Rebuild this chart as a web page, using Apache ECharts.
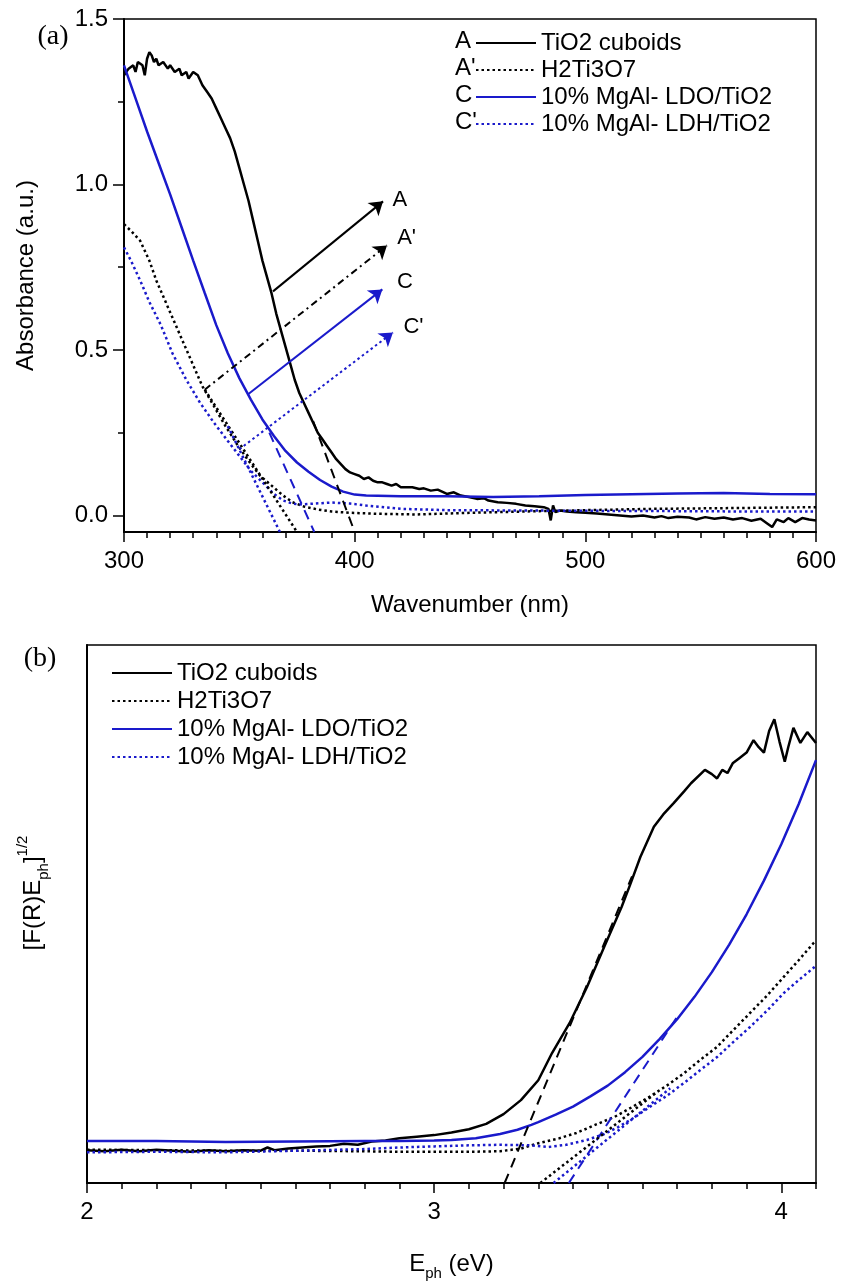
<!DOCTYPE html>
<html><head><meta charset="utf-8">
<script src="https://cdn.jsdelivr.net/npm/echarts@6/dist/echarts.min.js"></script>
<style>html,body{margin:0;padding:0;background:#fff}#c{width:841px;height:1283px}</style>
</head><body><div id="c"></div>
<script>
// ---------- names ----------
const seriesNames = ['TiO2 cuboids', 'H2Ti3O7', '10% MgAl- LDO/TiO2', '10% MgAl- LDH/TiO2'];
const legendPrefix = ['A', "A'", 'C', "C'"];

// ---------- panel (a): absorbance vs wavelength (nm) ----------
const absTiO2 = [[300,1.33],[302,1.35],[304,1.36],[305,1.34],[306,1.37],[308,1.36],[309,1.33],[310,1.38],[311,1.40],[312,1.39],[313,1.37],[314,1.38],[315,1.36],[317,1.37],[319,1.35],[320,1.36],[322,1.34],[324,1.35],[325,1.33],[327,1.34],[328,1.32],[330,1.34],[332,1.33],[334,1.30],[336,1.28],[338,1.26],[340,1.23],[342,1.20],[344,1.17],[346,1.14],[348,1.10],[350,1.05],[352,1.00],[354,0.95],[356,0.89],[358,0.83],[360,0.77],[362,0.72],[364,0.67],[366,0.61],[368,0.56],[370,0.51],[372,0.46],[374,0.41],[376,0.37],[378,0.34],[380,0.31],[382,0.28],[384,0.25],[386,0.23],[388,0.21],[390,0.19],[392,0.17],[394,0.155],[396,0.14],[398,0.13],[400,0.125],[402,0.12],[404,0.11],[406,0.115],[408,0.105],[410,0.10],[412,0.10],[414,0.095],[416,0.09],[418,0.095],[420,0.085],[425,0.085],[428,0.08],[430,0.082],[433,0.075],[436,0.078],[440,0.065],[443,0.07],[446,0.06],[450,0.055],[453,0.05],[456,0.052],[458,0.045],[462,0.040],[466,0.038],[470,0.035],[474,0.030],[478,0.028],[482,0.025],[484,0.02],[485,-0.015],[486,0.03],[487,0.01],[489,0.015],[492,0.012],[496,0.010],[500,0.008],[505,0.006],[510,0.003],[515,0.0],[520,-0.003],[525,0.0],[530,-0.006],[533,-0.002],[536,-0.008],[540,-0.004],[545,-0.006],[548,-0.012],[552,-0.005],[556,-0.01],[560,-0.006],[564,-0.012],[568,-0.008],[572,-0.016],[576,-0.01],[579,-0.025],[581,-0.035],[583,-0.012],[586,-0.02],[588,-0.008],[591,-0.02],[594,-0.008],[597,-0.012],[600,-0.015]];
const absH2Ti3O7 = [[300,0.88],[303,0.86],[307,0.83],[311,0.77],[314,0.71],[319,0.63],[324,0.55],[329,0.47],[334,0.39],[339,0.33],[344,0.27],[349,0.215],[354,0.165],[359,0.12],[364,0.09],[369,0.06],[373,0.04],[378,0.027],[384,0.018],[390,0.012],[398,0.008],[410,0.005],[427,0.003],[450,0.008],[480,0.013],[500,0.016],[530,0.02],[560,0.022],[600,0.025]];
const absLDO = [[300,1.36],[305,1.26],[310,1.16],[315,1.065],[320,0.97],[325,0.87],[330,0.77],[335,0.672],[340,0.575],[345,0.49],[350,0.415],[355,0.35],[360,0.29],[365,0.24],[370,0.195],[375,0.16],[380,0.132],[385,0.107],[390,0.087],[395,0.072],[400,0.063],[405,0.06],[420,0.058],[440,0.058],[460,0.056],[480,0.058],[500,0.062],[520,0.064],[540,0.066],[560,0.068],[580,0.065],[600,0.064]];
const absLDH = [[300,0.81],[303,0.77],[307,0.71],[311,0.645],[316,0.575],[321,0.49],[327,0.41],[333,0.34],[339,0.28],[345,0.225],[350,0.18],[355,0.135],[360,0.10],[365,0.065],[369,0.045],[373,0.036],[376,0.033],[383,0.036],[390,0.039],[398,0.036],[405,0.03],[420,0.02],[440,0.016],[470,0.015],[500,0.014],[540,0.013],[570,0.012],[600,0.012]];
// tangent (extrapolation) segments, panel (a)
const tanA  = [[382,0.285],[400,-0.05]];
const tanAp = [[335,0.38],[375,-0.05]];
const tanC  = [[363,0.25],[382.5,-0.05]];
const tanCp = [[345,0.27],[367.6,-0.05]];
// arrows, panel (a): [start, end]
const arrowA  = [[364.6,0.677],[412.3,0.949]];
const arrowAp = [[335,0.38],[414,0.816]];
const arrowC  = [[353.8,0.366],[412,0.683]];
const arrowCp = [[350,0.20],[416.6,0.553]];
// arrow labels
const arrowLabels = [{name:'A', value:[419.6,0.952]},{name:"A'", value:[422.5,0.840]},{name:'C', value:[421.8,0.707]},{name:"C'", value:[425.5,0.571]}];
const topXTicks = [300,400,500,600];
const topYTicks = [0,0.5,1.0,1.5];
const topYMinor = [0.25,0.75,1.25];

// ---------- panel (b): Tauc plot vs photon energy (eV) ----------
const taucTiO2 = [[2.0,0.061],[2.05,0.059],[2.1,0.062],[2.15,0.059],[2.2,0.062],[2.25,0.060],[2.3,0.058],[2.35,0.061],[2.4,0.059],[2.45,0.061],[2.5,0.060],[2.52,0.066],[2.54,0.061],[2.58,0.064],[2.62,0.066],[2.66,0.068],[2.7,0.069],[2.74,0.073],[2.78,0.071],[2.82,0.077],[2.86,0.079],[2.9,0.083],[2.95,0.086],[3.0,0.089],[3.05,0.094],[3.1,0.100],[3.15,0.110],[3.2,0.128],[3.25,0.154],[3.3,0.191],[3.34,0.242],[3.39,0.297],[3.44,0.364],[3.49,0.439],[3.54,0.513],[3.565,0.555],[3.594,0.606],[3.633,0.662],[3.66,0.685],[3.69,0.706],[3.72,0.728],[3.74,0.743],[3.78,0.768],[3.80,0.760],[3.815,0.752],[3.83,0.768],[3.845,0.762],[3.86,0.78],[3.88,0.79],[3.90,0.80],[3.92,0.823],[3.935,0.81],[3.95,0.80],[3.965,0.84],[3.98,0.862],[3.995,0.82],[4.01,0.783],[4.02,0.81],[4.035,0.846],[4.055,0.818],[4.075,0.838],[4.1,0.818]];
const taucH2Ti3O7 = [[2.0,0.062],[2.2,0.061],[2.4,0.060],[2.6,0.060],[2.8,0.059],[2.9,0.058],[3.0,0.058],[3.1,0.058],[3.19,0.059],[3.25,0.064],[3.30,0.074],[3.36,0.083],[3.41,0.093],[3.46,0.107],[3.52,0.123],[3.57,0.141],[3.62,0.160],[3.67,0.181],[3.72,0.204],[3.765,0.228],[3.815,0.253],[3.86,0.283],[3.91,0.316],[3.96,0.349],[4.007,0.383],[4.05,0.414],[4.093,0.446],[4.1,0.45]];
const taucLDO = [[2.0,0.078],[2.2,0.078],[2.4,0.076],[2.6,0.077],[2.8,0.078],[2.9,0.078],[3.0,0.079],[3.05,0.080],[3.12,0.083],[3.19,0.091],[3.24,0.099],[3.28,0.108],[3.3,0.113],[3.35,0.127],[3.4,0.142],[3.45,0.161],[3.5,0.181],[3.55,0.206],[3.6,0.2345],[3.65,0.268],[3.7,0.3045],[3.75,0.346],[3.8,0.392],[3.85,0.443],[3.9,0.4995],[3.95,0.562],[4.0,0.6295],[4.05,0.704],[4.1,0.786]];
const taucLDH = [[2.0,0.057],[2.2,0.058],[2.4,0.057],[2.6,0.060],[2.8,0.063],[2.9,0.066],[3.0,0.068],[3.1,0.070],[3.19,0.071],[3.28,0.070],[3.33,0.067],[3.38,0.071],[3.44,0.080],[3.49,0.091],[3.53,0.104],[3.575,0.121],[3.62,0.141],[3.67,0.162],[3.72,0.186],[3.765,0.209],[3.815,0.234],[3.86,0.261],[3.91,0.29],[3.96,0.321],[4.007,0.353],[4.05,0.377],[4.093,0.40],[4.1,0.405]];
const tanBA  = [[3.203,0],[3.57,0.57]];
const tanBC  = [[3.388,0],[3.70,0.309]];
const tanBAp = [[3.306,0],[3.64,0.168]];
const tanBCp = [[3.344,0],[3.68,0.176]];
const botXTicks = [2,3,4];
const botXMinor = [2.1,2.2,2.3,2.4,2.5,2.6,2.7,2.8,2.9,3.1,3.2,3.3,3.4,3.5,3.6,3.7,3.8,3.9,4.1];

// ---------- styles ----------
const BLACK = '#000000', BLUE = '#1a1acb';
const FONT = "'Liberation Sans', Arial, sans-serif";
const SERIF = "'Liberation Serif', 'Times New Roman', serif";
const DOT = [2.5, 3];
const styles = [
  {color: BLACK, type: 'solid', width: 2.5},
  {color: BLACK, type: DOT, width: 2.5},
  {color: BLUE, type: 'solid', width: 2.5},
  {color: BLUE, type: DOT, width: 2.5}
];

function curve(name, data, xi, yi, st, z) {
  return {type: 'line', name, data, xAxisIndex: xi, yAxisIndex: yi, symbol: 'none', showSymbol: false,
    lineStyle: {color: st.color, width: st.width, type: st.type, cap: 'butt'}, itemStyle: {color: st.color},
    animation: false, z: z || 2};
}
function seg(data, xi, yi, color, type, width) {
  return {type: 'line', data, xAxisIndex: xi, yAxisIndex: yi, symbol: 'none', silent: true,
    lineStyle: {color, width: width || 2, type}, animation: false, z: 3};
}
function arrow(coords, color, type) {
  return {type: 'lines', coordinateSystem: 'cartesian2d', xAxisIndex: 0, yAxisIndex: 0,
    symbol: ['none', 'arrow'], symbolSize: 13, silent: true, animation: false, z: 4,
    lineStyle: {color, width: 2, type, opacity: 1}, data: [{coords}]};
}

const topData = [absTiO2, absH2Ti3O7, absLDO, absLDH];
const botData = [taucTiO2, taucH2Ti3O7, taucLDO, taucLDH];
const series = [];
topData.forEach((d, i) => series.push(curve(seriesNames[i], d, 0, 0, styles[i])));
botData.forEach((d, i) => series.push(curve(seriesNames[i], d, 1, 2, styles[i])));
series.push(seg(tanA, 0, 0, BLACK, [10, 7]));
series.push(seg(tanC, 0, 0, BLUE, [10, 7]));
series.push(seg(tanAp, 0, 0, BLACK, DOT, 2.5));
series.push(seg(tanCp, 0, 0, BLUE, DOT, 2.5));
series.push(seg(tanBA, 1, 2, BLACK, [10, 7]));
series.push(seg(tanBC, 1, 2, BLUE, [10, 7]));
series.push(seg(tanBAp, 1, 2, BLACK, DOT, 2.5));
series.push(seg(tanBCp, 1, 2, BLUE, DOT, 2.5));
series.push(arrow(arrowA, BLACK, 'solid'));
series.push(arrow(arrowAp, BLACK, [7, 4, 2, 4]));
series.push(arrow(arrowC, BLUE, 'solid'));
series.push(arrow(arrowCp, BLUE, DOT));
series.push({type: 'scatter', xAxisIndex: 0, yAxisIndex: 0, symbolSize: 0, silent: true, animation: false,
  itemStyle: {opacity: 1}, z: 5,
  data: arrowLabels, label: {show: true, position: 'inside', formatter: '{b}', color: BLACK, opacity: 1, fontSize: 22, fontFamily: FONT}});

const axisLine = {show: true, onZero: false, lineStyle: {color: BLACK, width: 2}};
const labelStyle = {color: BLACK, fontSize: 24, fontFamily: FONT};

const legendCommon = {
  orient: 'vertical', itemWidth: 60, itemHeight: 14, itemGap: 3,
  itemStyle: {opacity: 0, borderWidth: 0},
  textStyle: {color: BLACK, fontSize: 24, fontFamily: FONT, lineHeight: 24},
  selectedMode: false, data: seriesNames
};

const option = {
  backgroundColor: '#fff',
  animation: false,
  grid: [
    {left: 124, right: 25, top: 19, bottom: 751, show: true, borderColor: BLACK, borderWidth: 1.5, backgroundColor: 'transparent'},
    {left: 87, right: 25, top: 645, bottom: 100, show: true, borderColor: BLACK, borderWidth: 1.5, backgroundColor: 'transparent'}
  ],
  legend: [
    Object.assign({}, legendCommon, {left: 470, top: 26}),
    Object.assign({}, legendCommon, {left: 106, top: 656, itemGap: 4})
  ],
  xAxis: [
    {gridIndex: 0, type: 'value', min: topXTicks[0], max: topXTicks[topXTicks.length - 1], interval: 100,
      axisLine, splitLine: {show: false},
      axisTick: {show: true, length: 10, lineStyle: {color: BLACK, width: 1.5}},
      minorTick: {show: true, splitNumber: 10, length: 6, lineStyle: {color: BLACK, width: 1.5}},
      minorSplitLine: {show: false},
      axisLabel: Object.assign({margin: 17}, labelStyle),
      name: 'Wavenumber (nm)', nameLocation: 'middle', nameGap: 61, nameTextStyle: labelStyle},
    {gridIndex: 1, type: 'value', min: 2, max: 4.1, position: 'bottom',
      axisLine, splitLine: {show: false},
      axisTick: {show: true, length: 10, customValues: botXTicks, lineStyle: {color: BLACK, width: 1.5}},
      axisLabel: Object.assign({margin: 17, customValues: botXTicks}, labelStyle),
      name: '{a|E}{s|ph}{a| (eV)}', nameLocation: 'middle', nameGap: 64,
      nameTextStyle: {rich: {a: {fontSize: 24, fontFamily: FONT, color: BLACK, lineHeight: 34},
                             s: {fontSize: 15, fontFamily: FONT, color: BLACK, verticalAlign: 'bottom', lineHeight: 22}}}},
    {gridIndex: 1, type: 'value', min: 2, max: 4.1, position: 'bottom',
      axisLine: {show: false}, splitLine: {show: false},
      axisTick: {show: true, length: 6, customValues: botXMinor, lineStyle: {color: BLACK, width: 1.5}},
      axisLabel: {show: false}}
  ],
  yAxis: [
    {gridIndex: 0, type: 'value', min: -0.05, max: 1.5,
      axisLine, splitLine: {show: false},
      axisTick: {show: true, length: 11, customValues: topYTicks, lineStyle: {color: BLACK, width: 1.5}},
      axisLabel: Object.assign({margin: 16, customValues: topYTicks, formatter: v => v.toFixed(1)}, labelStyle),
      name: 'Absorbance (a.u.)', nameLocation: 'middle', nameGap: 86, nameTextStyle: labelStyle},
    {gridIndex: 0, type: 'value', min: -0.05, max: 1.5, position: 'left',
      axisLine: {show: false}, splitLine: {show: false},
      axisTick: {show: true, length: 6, customValues: topYMinor, lineStyle: {color: BLACK, width: 1.5}},
      axisLabel: {show: false}},
    {gridIndex: 1, type: 'value', min: 0, max: 1,
      axisLine, splitLine: {show: false}, axisTick: {show: false}, axisLabel: {show: false}}
  ],
  graphic: [
    {type: 'text', x: 53, y: 37, style: {text: '(a)', fontSize: 28, fontFamily: SERIF, fill: BLACK, align: 'center', verticalAlign: 'middle'}},
    {type: 'text', x: 40, y: 659, style: {text: '(b)', fontSize: 28, fontFamily: SERIF, fill: BLACK, align: 'center', verticalAlign: 'middle'}},
    ...legendPrefix.map((t, i) => ({type: 'text', x: 455, y: 41 + i * 27, style: {text: t, fontSize: 24, fontFamily: FONT, fill: BLACK, align: 'left', verticalAlign: 'middle'}})),
    {type: 'text', x: 33, y: 893, rotation: Math.PI / 2,
      style: {text: '{a|[F(R)E}{s|ph}{a|]}{p|1/2}', align: 'center', verticalAlign: 'middle',
        rich: {a: {fontSize: 24, fontFamily: FONT, fill: BLACK, color: BLACK, lineHeight: 36},
               s: {fontSize: 15, fontFamily: FONT, fill: BLACK, color: BLACK, verticalAlign: 'bottom', lineHeight: 15},
               p: {fontSize: 15, fontFamily: FONT, fill: BLACK, color: BLACK, verticalAlign: 'top', lineHeight: 15}}}}
  ],
  series
};

const chart = echarts.init(document.getElementById('c'), null, {renderer: 'canvas'});
chart.setOption(option);
</script>
</body></html>
